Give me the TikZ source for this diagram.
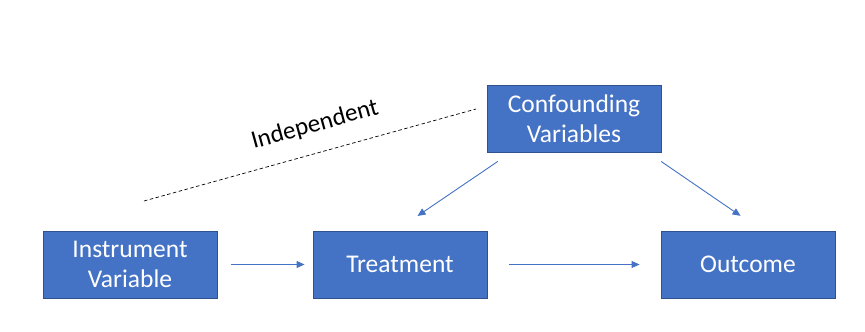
\documentclass[tikz,border=0pt]{standalone}
\usepackage{fontspec}
\setmainfont{Carlito}
\usetikzlibrary{arrows.meta}
\definecolor{boxfill}{HTML}{4472C4}
\definecolor{boxline}{HTML}{2F528F}
\definecolor{arrowcol}{HTML}{4472C4}
\begin{document}
\begin{tikzpicture}[x=1pt,y=-1pt,
  blockbox/.style={draw=boxline, line width=0.9pt, fill=boxfill, text=white,
    minimum width=174pt, minimum height=67pt, inner sep=0pt, align=center,
    font=\fontsize{25.5}{30}\selectfont},
  flowarrow/.style={draw=arrowcol, line width=0.9pt, -{Triangle[length=8pt,width=7pt]}}]
\useasboundingbox (0,0) rectangle (865,332);
\node[blockbox] (conf) at (574,118.5) {Confounding\\Variables};
\node[blockbox] (instr) at (130,264.5) {Instrument\\Variable};
\node[blockbox] (treat) at (400,264.5) {Treatment};
\node[blockbox] (outc) at (748,264.5) {Outcome};
\draw[flowarrow, shorten <=14pt, shorten >=8pt] (instr) -- (treat);
\draw[flowarrow, shorten <=22pt, shorten >=21pt] (treat) -- (outc);
\coordinate (cl) at ([xshift=-63pt]conf.south);
\coordinate (tl) at ([xshift=-4pt]treat.north);
\draw[flowarrow, shorten <=16pt, shorten >=26pt] (cl) -- (tl);
\coordinate (cr) at ([xshift=74pt]conf.south);
\coordinate (orr) at ([xshift=14pt]outc.north);
\draw[flowarrow, shorten <=16pt, shorten >=26pt] (cr) -- (orr);
\coordinate (d1) at (144,201);
\coordinate (d2) at (476,109);
\draw[black, line width=0.7pt, dash pattern=on 3.5pt off 2.5pt] (d1) -- (d2);
\node[rotate=15.5, inner sep=0pt, font=\fontsize{25}{28}\selectfont] (indep) at (315,125) {Independent};
\end{tikzpicture}
\end{document}
